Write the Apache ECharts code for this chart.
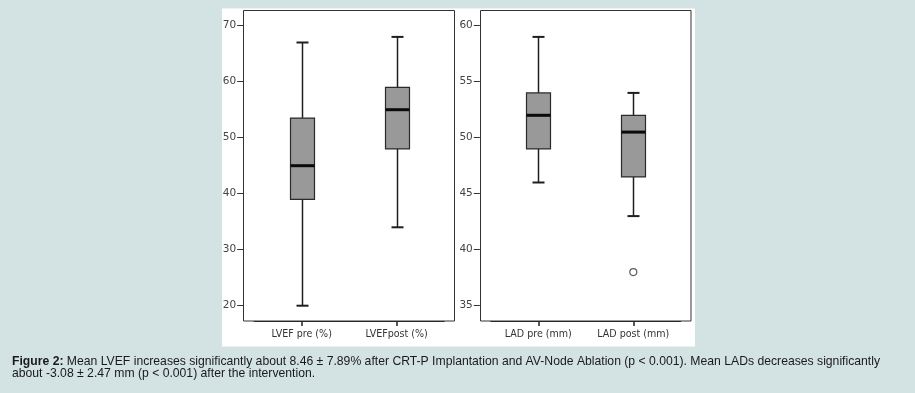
<!DOCTYPE html>
<html>
<head>
<meta charset="utf-8">
<script src="https://cdn.jsdelivr.net/npm/echarts@6/dist/echarts.min.js"></script>
<style>
html,body{margin:0;padding:0;background:#d3e2e2;}
#c{width:915px;height:393px;}
</style>
</head>
<body>
<div id="c"></div>
<script>
// ---- data ----
var lvefCategories = ['LVEF pre (%)', 'LVEFpost (%)'];
// [min, Q1, median, Q3, max]
var lvefBoxes = [
  [20, 39, 45, 53.5, 67],
  [34, 48, 55, 59, 68]
];
var lvefTicks = [20, 30, 40, 50, 60, 70];

var ladCategories = ['LAD pre (mm)', 'LAD post (mm)'];
var ladBoxes = [
  [46, 49, 52, 54, 59],
  [43, 46.5, 50.5, 52, 54]
];
var ladOutliers = [[1, 38]];
var ladTicks = [35, 40, 45, 50, 55, 60];

var captionBold = 'Figure 2:';
var captionLine1 = ' Mean LVEF increases significantly about 8.46 \u00b1 7.89% after CRT-P Implantation and AV-Node Ablation (p < 0.001). Mean LADs decreases significantly';
var captionLine2 = 'about -3.08 \u00b1 2.47 mm (p < 0.001) after the intervention.';

// ---- chart ----
var chart = echarts.init(document.getElementById('c'), null, {renderer: 'canvas'});

function withIndex(boxes) {
  return boxes.map(function (b, i) { return [i].concat(b); });
}

function renderBox(params, api) {
  var x = api.value(0);
  var pMin = api.coord([x, api.value(1)]);
  var pQ1 = api.coord([x, api.value(2)]);
  var pMed = api.coord([x, api.value(3)]);
  var pQ3 = api.coord([x, api.value(4)]);
  var pMax = api.coord([x, api.value(5)]);
  var cx = Math.round(pMin[0]) + 0.5;
  var hw = 12, cw = 6;
  var lineStyle = {stroke: '#1e1e1e', lineWidth: 1.5};
  return {
    type: 'group',
    children: [
      {type: 'line', shape: {x1: cx, y1: pMax[1], x2: cx, y2: pQ3[1]}, style: lineStyle},
      {type: 'line', shape: {x1: cx, y1: pQ1[1], x2: cx, y2: pMin[1]}, style: lineStyle},
      {type: 'line', shape: {x1: cx - cw, y1: pMax[1], x2: cx + cw, y2: pMax[1]}, style: {stroke: '#1e1e1e', lineWidth: 2}},
      {type: 'line', shape: {x1: cx - cw, y1: pMin[1], x2: cx + cw, y2: pMin[1]}, style: {stroke: '#1e1e1e', lineWidth: 2}},
      {type: 'rect', shape: {x: cx - hw, y: pQ3[1], width: hw * 2, height: pQ1[1] - pQ3[1]},
        style: {fill: '#999999', stroke: '#2a2a2a', lineWidth: 1.2}},
      {type: 'line', shape: {x1: cx - hw, y1: pMed[1], x2: cx + hw, y2: pMed[1]}, style: {stroke: '#0a0a0a', lineWidth: 3}}
    ]
  };
}

var xFont = '"DejaVu Sans Condensed", "DejaVu Sans", sans-serif';
var yFont = '"DejaVu Sans", sans-serif';

function xAxisOpt(gridIndex, cats) {
  return {
    type: 'category', gridIndex: gridIndex, data: cats, offset: 15.3,
    axisLine: {show: true, lineStyle: {color: '#222', width: 1}},
    axisTick: {show: true, alignWithLabel: true, interval: 0, length: 5, lineStyle: {color: '#222', width: 1.5}},
    axisLabel: {color: '#333', fontSize: 10.6, fontFamily: xFont, margin: 8, interval: 0, hideOverlap: false},
    splitLine: {show: false}
  };
}
function yAxisOpt(gridIndex, min, max, interval) {
  return {
    type: 'value', gridIndex: gridIndex, min: min, max: max, interval: interval, offset: 11,
    axisLine: {show: true, lineStyle: {color: '#222', width: 1}},
    axisTick: {show: true, length: 6, lineStyle: {color: '#333', width: 1}},
    axisLabel: {color: '#444', fontSize: 10.5, fontFamily: yFont, margin: 7},
    splitLine: {show: false}
  };
}

var option = {
  backgroundColor: '#d3e2e2',
  animation: false,
  title: {
    left: 12, top: 356, padding: 0,
    text: '{b|' + captionBold + '}' + captionLine1 + '\n' + captionLine2,
    textStyle: {
      fontFamily: '"Liberation Sans", Arial, sans-serif', fontSize: 12.2, fontWeight: 'normal',
      color: '#1a1a1a', lineHeight: 12,
      rich: {b: {fontFamily: '"Liberation Sans", Arial, sans-serif', fontSize: 12.2, fontWeight: 'bold', color: '#1a1a1a', lineHeight: 12}}
    }
  },
  graphic: [
    {type: 'rect', z: -10, shape: {x: 222, y: 8.5, width: 473, height: 338}, style: {fill: '#ffffff'}, silent: true},
    {type: 'rect', z: 100, shape: {x: 243.5, y: 10.5, width: 211, height: 310.5}, style: {fill: 'none', stroke: '#333', lineWidth: 1}, silent: true},
    {type: 'rect', z: 100, shape: {x: 480.5, y: 10.5, width: 210.5, height: 310.5}, style: {fill: 'none', stroke: '#333', lineWidth: 1}, silent: true}
  ],
  grid: [
    {left: 254.2, width: 190, top: 25.7, height: 280},
    {left: 490.8, width: 190, top: 25.7, height: 280}
  ],
  xAxis: [xAxisOpt(0, lvefCategories), xAxisOpt(1, ladCategories)],
  yAxis: [yAxisOpt(0, lvefTicks[0], lvefTicks[lvefTicks.length - 1], 10), yAxisOpt(1, ladTicks[0], ladTicks[ladTicks.length - 1], 5)],
  series: [
    {type: 'custom', xAxisIndex: 0, yAxisIndex: 0, renderItem: renderBox, data: withIndex(lvefBoxes), clip: false},
    {type: 'custom', xAxisIndex: 1, yAxisIndex: 1, renderItem: renderBox, data: withIndex(ladBoxes), clip: false},
    {type: 'scatter', xAxisIndex: 1, yAxisIndex: 1, data: ladOutliers, symbol: 'circle', symbolSize: 7,
      itemStyle: {color: '#ffffff', borderColor: '#333', borderWidth: 1.2}}
  ]
};
chart.setOption(option);
</script>
</body>
</html>
